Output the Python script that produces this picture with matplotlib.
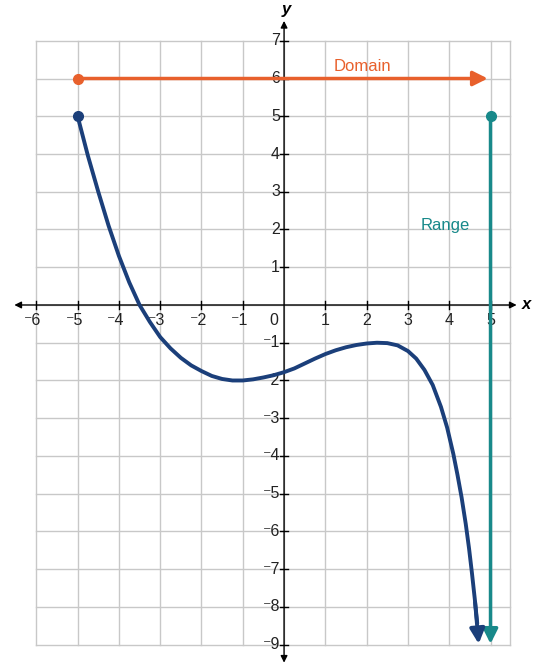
import matplotlib.pyplot as plt
import numpy as np

plt.rcParams["font.family"] = ["Liberation Sans", "DejaVu Sans"]

curve_x = [-5, -4.75, -4.5, -4.25, -4, -3.75, -3.5, -3.25, -3, -2.75, -2.5, -2.25, -2, -1.75, -1.5, -1.25, -1,
           -0.75, -0.5, -0.25, 0, 0.25, 0.5, 0.75, 1, 1.25, 1.5, 1.75, 2, 2.25, 2.5, 2.75, 3, 3.2, 3.4, 3.6,
           3.8, 3.95, 4.1, 4.2, 4.3, 4.4, 4.48, 4.55, 4.62, 4.68, 4.72]
curve_y = [5, 3.95, 3.0, 2.1, 1.3, 0.6, 0.0, -0.45, -0.85, -1.15, -1.4, -1.6, -1.75, -1.88, -1.96, -2.0, -2.0,
           -1.97, -1.92, -1.86, -1.78, -1.68, -1.55, -1.42, -1.3, -1.2, -1.12, -1.06, -1.02, -1.0, -1.01, -1.07,
           -1.22, -1.42, -1.72, -2.12, -2.7, -3.25, -3.95, -4.5, -5.1, -5.8, -6.45, -7.1, -7.8, -8.45, -9.0]
xticks = [-6, -5, -4, -3, -2, -1, 1, 2, 3, 4, 5]
yticks = [-9, -8, -7, -6, -5, -4, -3, -2, -1, 1, 2, 3, 4, 5, 6, 7]

navy = "#1b3f7a"
orange = "#e8602c"
teal = "#18898a"

fig = plt.figure(figsize=(5.38, 6.70), dpi=100)
ax = fig.add_axes([0, 0, 1, 1])
ax.set_xlim(-6.88, 6.15)
ax.set_ylim(-9.67, 8.08)
ax.axis("off")

# grid
for gx in range(-6, 6):
    ax.plot([gx, gx], [-9, 7], color="#c8c8c8", lw=1, zorder=1)
ax.plot([5.47, 5.47], [-9, 7], color="#c8c8c8", lw=1, zorder=1)
for gy in range(-9, 8):
    ax.plot([-6, 5.47], [gy, gy], color="#c8c8c8", lw=1, zorder=1)

# axes
ax.annotate("", xy=(5.7, 0), xytext=(-6.6, 0),
            arrowprops=dict(arrowstyle="<|-|>", color="black", lw=1, mutation_scale=10), zorder=2)
ax.annotate("", xy=(0, 7.6), xytext=(0, -9.55),
            arrowprops=dict(arrowstyle="<|-|>", color="black", lw=1, mutation_scale=10), zorder=2)
ax.text(5.75, 0, "x", fontsize=12, style="italic", fontweight="bold", va="center", ha="left")
ax.text(0.05, 7.62, "y", fontsize=12, style="italic", fontweight="bold", va="bottom", ha="center")

for t in xticks:
    ax.plot([t, t], [-0.1, 0.1], color="black", lw=1, zorder=2)
    lab = str(t) if t > 0 else "\u207b" + str(-t)
    ax.text(t - (0.08 if t < 0 else 0), -0.22, lab, fontsize=11.5, ha="center", va="top", color="#222")
for t in yticks:
    ax.plot([-0.1, 0.1], [t, t], color="black", lw=1, zorder=2)
    lab = str(t) if t > 0 else "\u207b" + str(-t)
    ax.text(-0.1, t, lab, fontsize=11.5, ha="right", va="center", color="#222")
ax.text(-0.15, -0.22, "0", fontsize=11.5, ha="right", va="top", color="#222")

# domain
ax.annotate("", xy=(5.0, 6), xytext=(-5, 6),
            arrowprops=dict(arrowstyle="-|>", color=orange, lw=2.5, mutation_scale=22), zorder=3)
ax.plot([-5], [6], "o", color=orange, ms=7, zorder=4)
ax.text(1.2, 6.12, "Domain", color=orange, fontsize=12, ha="left", va="bottom")

# range
ax.annotate("", xy=(5.0, -9.05), xytext=(5, 5),
            arrowprops=dict(arrowstyle="-|>", color=teal, lw=2.5, mutation_scale=22), zorder=3)
ax.plot([5], [5], "o", color=teal, ms=7, zorder=4)
ax.text(3.3, 2.1, "Range", color=teal, fontsize=12, ha="left", va="center")

# curve
ax.plot(curve_x[:-1], curve_y[:-1], color=navy, lw=2.8, zorder=5, solid_capstyle="butt", solid_joinstyle="round")
ax.annotate("", xy=(4.72, -9.05), xytext=(curve_x[-3], curve_y[-3]),
            arrowprops=dict(arrowstyle="-|>", color=navy, lw=2.8, mutation_scale=22), zorder=5)
ax.plot([-5], [5], "o", color=navy, ms=7, zorder=6)

fig.savefig("out.png", dpi=100)
